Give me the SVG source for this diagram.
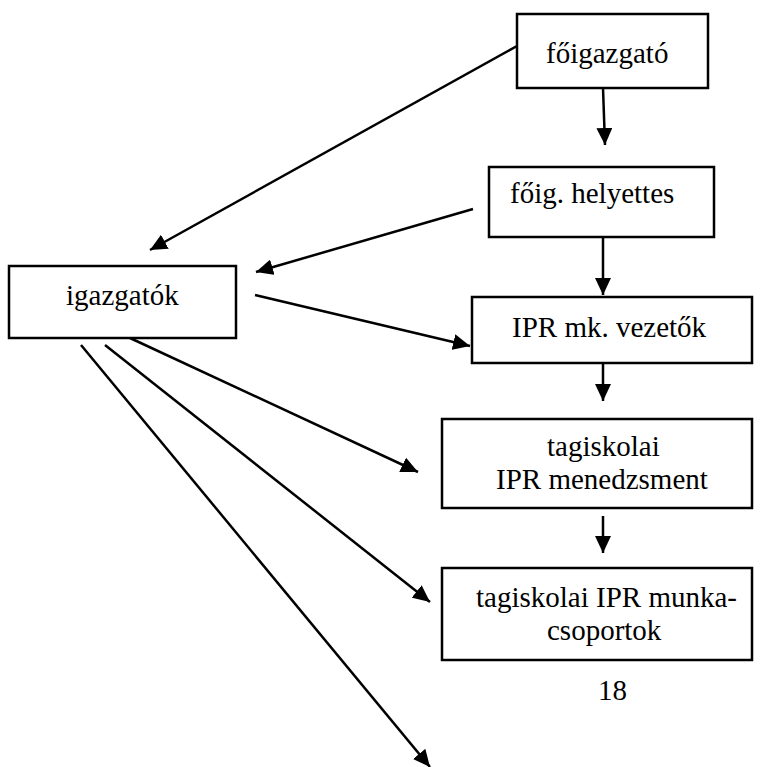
<svg xmlns="http://www.w3.org/2000/svg" width="767" height="767" viewBox="0 0 767 767">
  <style>
    .box { fill: #fff; stroke: #000; stroke-width: 2.5; }
    .lbl { font-family: "Liberation Serif", "Times New Roman", serif; font-size: 29px; fill: #000; }
    .edge { stroke: #000; stroke-width: 2.5; fill: none; marker-end: url(#arrow); }
  </style>
  <defs>
    <marker id="arrow" markerUnits="userSpaceOnUse" markerWidth="18" markerHeight="16" refX="17" refY="8" orient="auto">
      <path d="M0,0 L17,8 L0,16 Z" fill="#000"/>
    </marker>
  </defs>
  <rect width="767" height="767" fill="#fff"/>

  <g id="connectors">
    <line class="edge" x1="517" y1="46" x2="150" y2="250"/>
    <line class="edge" x1="603" y1="88" x2="605" y2="145"/>
    <line class="edge" x1="473" y1="209" x2="256" y2="272"/>
    <line class="edge" x1="603" y1="237" x2="603" y2="295"/>
    <line class="edge" x1="255" y1="295" x2="470" y2="346"/>
    <line class="edge" x1="603" y1="363" x2="603" y2="401"/>
    <line class="edge" x1="603" y1="516" x2="603" y2="553"/>
    <line class="edge" x1="130" y1="338" x2="418" y2="472"/>
    <line class="edge" x1="105" y1="345" x2="430" y2="602"/>
    <line class="edge" x1="81" y1="345" x2="430" y2="767"/>
  </g>

  <g id="foigazgato">
    <rect class="box" x="517" y="14" width="191" height="74"/>
    <text class="lbl" x="546" y="63">főigazgató</text>
  </g>
  <g id="foig-helyettes">
    <rect class="box" x="489" y="167" width="225" height="70"/>
    <text class="lbl" x="510" y="203">főig. helyettes</text>
  </g>
  <g id="igazgatok">
    <rect class="box" x="9" y="266" width="227" height="72"/>
    <text class="lbl" x="66" y="305">igazgatók</text>
  </g>
  <g id="ipr-mk-vezetok">
    <rect class="box" x="472" y="297" width="280" height="66"/>
    <text class="lbl" x="512" y="337">IPR mk. vezetők</text>
  </g>
  <g id="ipr-menedzsment">
    <rect class="box" x="442" y="419" width="310" height="89"/>
    <text class="lbl" x="547" y="456">tagiskolai</text>
    <text class="lbl" x="496" y="489">IPR menedzsment</text>
  </g>
  <g id="ipr-munkacsoportok">
    <rect class="box" x="442" y="568" width="310" height="92"/>
    <text class="lbl" x="476" y="607">tagiskolai IPR munka-</text>
    <text class="lbl" x="547" y="640">csoportok</text>
  </g>

  <text class="lbl" x="598" y="700">18</text>
</svg>
